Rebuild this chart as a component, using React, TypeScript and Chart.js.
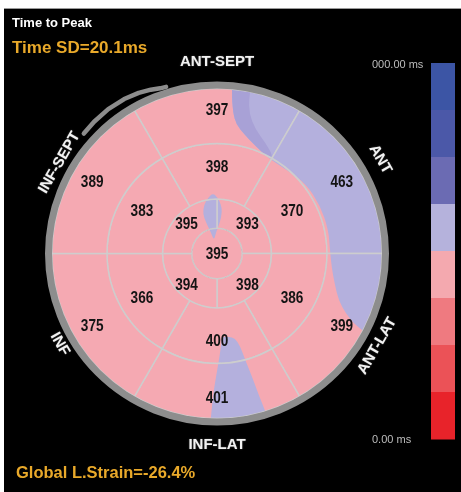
import React, { useEffect, useRef } from "react";
import { Chart, registerables } from "chart.js";

Chart.register(...registerables);

// Time to peak (ms) per segment of the 17-segment bull's-eye.
// Rings run clockwise from 12 o'clock.
const basalValues = [397, 463, 399, 401, 375, 389];
const midValues = [398, 370, 386, 400, 366, 383];
const apicalValues = [393, 398, 394, 395];
const apexValues = [395];

const wallLabels = ["ANT-SEPT", "ANT", "ANT-LAT", "INF-LAT", "INF", "INF-SEPT"];
const scaleTopLabel = "000.00 ms";
const scaleBottomLabel = "0.00 ms";
const titleText = "Time to Peak";
const sdText = "Time SD=20.1ms";
const strainText = "Global L.Strain=-26.4%";

// every segment takes an equal share of its ring
const SEGMENT_SHARE = 1;

const PINK = "#F5A9B2";
const LAVENDER = "#B4B0DD";
const LAVENDER_DEEP = "#A8A1D6";
const GRID = "rgba(206,206,206,0.95)";
const RING_GRAY = "#8d8d8d";
const ORANGE = "#E9A92A";
const GRID_WIDTH = 1.5;

// colour-bar bands, top to bottom
const scaleColors = [
  "#3C55A5",
  "#4B58A8",
  "#6B6BB3",
  "#B5B2DC",
  "#F4A9AF",
  "#EF7A80",
  "#EB5257",
  "#E8232A",
];

// Regions of the interpolated map that fall in the lavender band.
// Outline points are [degrees clockwise from 12 o'clock, radius / outer radius].
type Zone = { color: string; outline: [number, number][] };
const fieldZones: Zone[] = [
  {
    color: LAVENDER,
    outline: [
      [5, 1.15], [5.2, 0.98], [6.5, 0.86], [8.5, 0.79], [13, 0.74], [20, 0.69],
      [29, 0.655], [40, 0.66], [52, 0.685], [65, 0.69], [78, 0.69], [88, 0.685],
      [97, 0.7], [105, 0.74], [111, 0.79], [115, 0.86], [117.5, 0.95], [119, 1.15],
      [100, 1.15], [80, 1.15], [60, 1.15], [40, 1.15], [20, 1.15],
    ],
  },
  {
    color: LAVENDER_DEEP,
    outline: [
      [5, 1.15], [5.2, 0.98], [6.5, 0.86], [8.5, 0.79], [13, 0.74], [20, 0.69],
      [28, 0.66], [30, 0.68], [24, 0.73], [17, 0.79], [13, 0.87], [11.5, 0.97], [11.5, 1.15],
    ],
  },
  {
    color: LAVENDER,
    outline: [
      [176.5, 0.505], [172, 0.51], [168, 0.525], [166, 0.58], [165.3, 0.65],
      [164.5, 0.73], [164, 0.8], [163.5, 0.9], [163, 1.0], [162.5, 1.15],
      [172, 1.15], [182.5, 1.15], [182, 0.95], [181.5, 0.85], [180.5, 0.75],
      [179, 0.65], [177.5, 0.56],
    ],
  },
  {
    color: LAVENDER,
    outline: [
      [356.2, 0.367], [1, 0.336], [4.8, 0.295], [7, 0.253], [5.5, 0.19],
      [357.3, 0.128], [347, 0.081], [344, 0.133], [340.5, 0.2], [340.3, 0.253],
      [344.8, 0.304], [350.7, 0.341],
    ],
  },
];

// ring layout: relative thickness, start rotation, where the value sits across the ring
const rings = [
  { values: basalValues, weight: 54.5, rotation: -30, depth: 0.62, border: GRID_WIDTH },
  { values: midValues, weight: 55, rotation: -30, depth: 0.58, border: GRID_WIDTH },
  { values: apicalValues, weight: 29, rotation: 0, depth: 0.61, border: GRID_WIDTH },
  { values: apexValues, weight: 25, rotation: 0, depth: 0, border: 0 },
];

const wallRadiusOffset = [26.5, 23.5, 20, 26, 16.5, 17];

// detached rim piece over the septal wall: [canvas angle in degrees, gap from the rim]
const rimGap: [number, number][] = [
  [222, 5], [227, 6], [233, 6.5], [239, 6], [244, 4.5], [248, 2.5], [251, 0.5], [253, 0],
];

const fieldCache = new WeakMap<Chart, CanvasPattern | string>();

function toXY(cx: number, cy: number, R: number, deg: number, frac: number) {
  const a = (deg * Math.PI) / 180;
  return [cx + frac * R * Math.sin(a), cy - frac * R * Math.cos(a)];
}

// Paint the timing map once per chart and use it as the segment fill.
function colorField(chart: Chart): CanvasPattern | string {
  const area = chart.chartArea;
  if (!area || !area.width) return PINK;
  const cached = fieldCache.get(chart);
  if (cached) return cached;
  const off = document.createElement("canvas");
  off.width = chart.width;
  off.height = chart.height;
  const g = off.getContext("2d")!;
  g.fillStyle = PINK;
  g.fillRect(0, 0, off.width, off.height);
  const cx = (area.left + area.right) / 2;
  const cy = (area.top + area.bottom) / 2;
  const R = (Math.min(area.width, area.height) - GRID_WIDTH) / 2;
  g.filter = "blur(0.7px)";
  for (const zone of fieldZones) {
    const pts = zone.outline.map(([d, f]) => toXY(cx, cy, R, d, f));
    const n = pts.length;
    const mid = (p: number[], q: number[]) => [(p[0] + q[0]) / 2, (p[1] + q[1]) / 2];
    g.beginPath();
    const start = mid(pts[n - 1], pts[0]);
    g.moveTo(start[0], start[1]);
    for (let i = 0; i < n; i++) {
      const nx = mid(pts[i], pts[(i + 1) % n]);
      g.quadraticCurveTo(pts[i][0], pts[i][1], nx[0], nx[1]);
    }
    g.closePath();
    g.fillStyle = zone.color;
    g.fill();
  }
  const pattern = chart.ctx.createPattern(off, "no-repeat") || PINK;
  fieldCache.set(chart, pattern);
  return pattern;
}

const bullseyePlugin = {
  id: "bullseye",
  afterDatasetsDraw(chart: any) {
    const ctx: CanvasRenderingContext2D = chart.ctx;
    const first = chart.getDatasetMeta(0).data[0];
    const { x: cx, y: cy, outerRadius: R } = first.getProps(["x", "y", "outerRadius"], true);

    // outer gray rim
    ctx.save();
    ctx.strokeStyle = RING_GRAY;
    ctx.lineWidth = 7;
    ctx.beginPath();
    ctx.arc(cx, cy, R + 3.5, 0, Math.PI * 2);
    ctx.stroke();

    ctx.lineWidth = 4.5;
    ctx.lineCap = "round";
    ctx.lineJoin = "round";
    ctx.beginPath();
    rimGap.forEach(([deg, gap], i) => {
      const a = (deg * Math.PI) / 180;
      const r = R + 7 + gap + 2.2;
      const px = cx + r * Math.cos(a);
      const py = cy + r * Math.sin(a);
      if (i === 0) ctx.moveTo(px, py);
      else ctx.lineTo(px, py);
    });
    ctx.stroke();
    ctx.restore();

    // segment values
    ctx.save();
    ctx.fillStyle = "#141414";
    ctx.font = 'bold 17px "Liberation Sans", Arial, sans-serif';
    ctx.textAlign = "center";
    ctx.textBaseline = "middle";
    rings.forEach((ring, di) => {
      const meta = chart.getDatasetMeta(di);
      meta.data.forEach((el: any, i: number) => {
        const p = el.getProps(["x", "y", "startAngle", "endAngle", "innerRadius", "outerRadius"], true);
        let tx = p.x;
        let ty = p.y;
        if (p.endAngle - p.startAngle < Math.PI * 2 - 0.01) {
          const mid = (p.startAngle + p.endAngle) / 2;
          const r = p.innerRadius + ring.depth * (p.outerRadius - p.innerRadius);
          tx += r * Math.cos(mid);
          ty += r * Math.sin(mid);
        }
        // condensed figures
        ctx.save();
        ctx.translate(tx, ty + 1);
        ctx.scale(0.8, 1);
        ctx.fillText(String(ring.values[i]), 0, 0);
        ctx.restore();
      });
    });
    ctx.restore();

    // wall names around the rim
    ctx.save();
    ctx.font = 'bold 15px "Liberation Sans", Arial, sans-serif';
    ctx.textAlign = "center";
    ctx.textBaseline = "middle";
    ctx.fillStyle = "#f2f2f2";
    ctx.shadowColor = "rgba(120,120,120,0.8)";
    ctx.shadowBlur = 1.5;
    wallLabels.forEach((label, k) => {
      const deg = k * 60;
      const a = (deg * Math.PI) / 180;
      const r = R + wallRadiusOffset[k];
      const px = cx + r * Math.sin(a);
      const py = cy - r * Math.cos(a);
      const rot = deg > 90 && deg < 270 ? deg - 180 : deg;
      ctx.save();
      ctx.translate(px, py);
      ctx.rotate((rot * Math.PI) / 180);
      ctx.fillText(label, 0, 0);
      ctx.restore();
    });
    ctx.restore();
  },
  afterDraw(chart: any) {
    const ctx: CanvasRenderingContext2D = chart.ctx;
    ctx.save();
    ctx.textAlign = "left";
    ctx.textBaseline = "alphabetic";
    ctx.fillStyle = "#ffffff";
    ctx.font = 'bold 13px "Liberation Sans", Arial, sans-serif';
    ctx.fillText(titleText, 12, 27);
    ctx.fillStyle = ORANGE;
    ctx.font = 'bold 17px "Liberation Sans", Arial, sans-serif';
    ctx.fillText(sdText, 12, 53);
    ctx.font = 'bold 16.5px "Liberation Sans", Arial, sans-serif';
    ctx.fillText(strainText, 16, 478);

    // colour bar
    const barX = 431;
    const barW = 24;
    const barTop = 63;
    const barBottom = 439;
    const bandH = (barBottom - barTop) / scaleColors.length;
    scaleColors.forEach((c, i) => {
      ctx.fillStyle = c;
      ctx.fillRect(barX, barTop + i * bandH, barW, bandH + 0.5);
    });
    ctx.fillStyle = "#bdbdbd";
    ctx.font = '11px "Liberation Sans", Arial, sans-serif';
    ctx.fillText(scaleTopLabel, 372, 67.5);
    ctx.fillText(scaleBottomLabel, 372, 443);
    ctx.restore();
  },
};

export default function App() {
  const ref = useRef<HTMLCanvasElement>(null);

  useEffect(() => {
    const canvas = ref.current;
    if (!canvas) return;
    const chart = new Chart(canvas, {
      type: "doughnut",
      data: {
        labels: wallLabels,
        datasets: rings.map((ring) => ({
          data: ring.values.map(() => SEGMENT_SHARE),
          weight: ring.weight,
          rotation: ring.rotation,
          backgroundColor: (c: any) => colorField(c.chart),
          borderColor: GRID,
          borderWidth: ring.border,
          hoverOffset: 0,
        })) as any,
      },
      options: {
        responsive: false,
        animation: false,
        events: [],
        cutout: 0,
        layout: { padding: { left: 51.25, right: 78.25, top: 87.75, bottom: 72.75 } },
        plugins: {
          legend: { display: false },
          tooltip: { enabled: false },
        },
      } as any,
      plugins: [bullseyePlugin as any],
    });
    return () => chart.destroy();
  }, []);

  return (
    <div
      style={{
        position: "absolute",
        left: 0,
        top: 0,
        width: 461,
        height: 492,
        background: "#ffffff",
        overflow: "hidden",
      }}
    >
      <div
        style={{
          position: "absolute",
          left: 4,
          top: 8,
          right: 0,
          bottom: 0,
          background: "#000000",
          borderTop: "1px solid #9a9a9a",
        }}
      />
      <canvas
        ref={ref}
        width={461}
        height={492}
        style={{ position: "absolute", left: 0, top: 0, width: 461, height: 492 }}
      />
    </div>
  );
}
